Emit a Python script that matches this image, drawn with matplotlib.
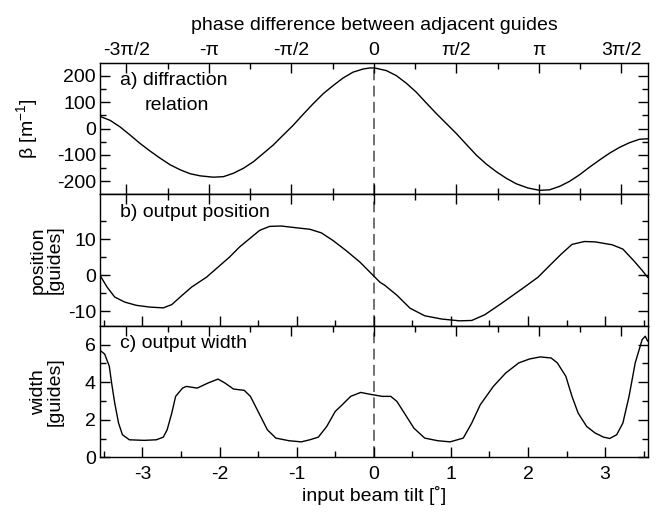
import numpy as np
import matplotlib
matplotlib.use("Agg")
from matplotlib import pyplot as plt
from matplotlib.ticker import FixedLocator, MultipleLocator

plt.rcParams['font.family'] = ['Liberation Sans', 'DejaVu Sans']
plt.rcParams['axes.unicode_minus'] = False
plt.rcParams['mathtext.default'] = 'regular'
plt.rcParams['font.size'] = 14

# input beam tilt (deg) that corresponds to a phase step of pi/2
DEG_PER_HALFPI = 1.07

# a) diffraction relation
tilt_a = [-3.55, -3.42, -3.29, -3.16, -3.03, -2.90, -2.77, -2.64, -2.51, -2.38, -2.25,
          -2.08, -1.95, -1.82, -1.69, -1.56, -1.43, -1.305, -1.175, -1.046, -0.916,
          -0.787, -0.657, -0.528, -0.398, -0.27, -0.139, -0.053, 0.012, 0.163, 0.292,
          0.422, 0.551, 0.681, 0.81, 0.94, 1.07, 1.199, 1.329, 1.458, 1.588, 1.717,
          1.847, 1.998, 2.149, 2.279, 2.408, 2.538, 2.667, 2.797, 2.926, 3.056, 3.185,
          3.315, 3.444, 3.552]
beta = [46, 31, 6, -25, -57, -86, -113, -138, -157, -172, -180,
        -185, -183, -170, -151, -126, -94, -63, -25, 12, 54,
        94, 132, 163, 192, 214, 226, 230, 230, 220, 201,
        172, 138, 97, 57, 19, -19, -60, -101, -135, -164, -189,
        -210, -226, -235, -233, -220, -201, -176, -147, -120, -94, -72,
        -54, -41, -39]

# b) output position
tilt_b = [-3.55, -3.46, -3.36, -3.23, -3.08, -2.90, -2.73, -2.62, -2.49, -2.36, -2.17,
          -2.02, -1.87, -1.74, -1.61, -1.48, -1.35, -1.20, -1.00, -0.83, -0.68, -0.53,
          -0.36, -0.18, -0.05, 0.08, 0.14, 0.30, 0.47, 0.66, 0.88, 1.11, 1.27, 1.44,
          1.66, 1.93, 2.13, 2.26, 2.43, 2.57, 2.73, 2.87, 3.09, 3.23, 3.37, 3.48, 3.55]
position = [0, -3.2, -6.0, -7.4, -8.3, -8.8, -9.0, -8.1, -5.6, -3.2, -0.5,
            2.3, 5.1, 7.9, 10.2, 12.5, 13.6, 13.7, 13.2, 12.8, 11.8, 9.7,
            6.9, 3.7, 0.9, -1.9, -2.7, -5.5, -9.1, -11.2, -12.1, -12.6, -12.5, -10.9,
            -7.7, -3.6, -0.5, 2.3, 5.9, 8.6, 9.4, 9.3, 8.5, 7.3, 4.1, 1.4, -0.5]

# c) output width
tilt_c = [-3.55, -3.49, -3.43, -3.40, -3.36, -3.31, -3.26, -3.17, -2.98, -2.82, -2.73,
          -2.68, -2.62, -2.57, -2.48, -2.43, -2.29, -2.15, -2.02, -1.93, -1.82, -1.68,
          -1.60, -1.49, -1.38, -1.27, -1.10, -0.94, -0.83, -0.72, -0.61, -0.50, -0.41,
          -0.30, -0.17, -0.06, 0.11, 0.22, 0.30, 0.41, 0.52, 0.66, 0.83, 0.99, 1.16,
          1.27, 1.38, 1.55, 1.71, 1.88, 2.02, 2.16, 2.30, 2.38, 2.49, 2.57, 2.65,
          2.76, 2.87, 2.98, 3.06, 3.15, 3.23, 3.31, 3.39, 3.48, 3.52, 3.55]
width = [5.7, 5.5, 4.85, 3.96, 2.9, 1.83, 1.21, 0.94, 0.91, 0.94, 1.08,
         1.47, 2.36, 3.25, 3.69, 3.78, 3.69, 3.96, 4.17, 3.96, 3.64, 3.57,
         3.25, 2.36, 1.47, 1.03, 0.89, 0.83, 0.94, 1.08, 1.65, 2.45, 2.8,
         3.25, 3.46, 3.37, 3.25, 3.25, 2.98, 2.27, 1.56, 1.03, 0.89, 0.83, 1.03,
         1.83, 2.8, 3.78, 4.49, 5.03, 5.24, 5.35, 5.29, 5.03, 4.32, 3.25, 2.36,
         1.65, 1.30, 1.08, 1.01, 1.21, 1.83, 3.25, 5.03, 6.27, 6.45, 6.2]

phase_ticks = [-1.5 * np.pi, -np.pi, -0.5 * np.pi, 0, 0.5 * np.pi, np.pi, 1.5 * np.pi]
phase_labels = ['-3π/2', '-π', '-π/2', '0', 'π/2', 'π', '3π/2']
phase_minor = [k * np.pi / 4 for k in range(-7, 8)]


def deg2phase(x):
    return np.asarray(x) * (np.pi / 2) / DEG_PER_HALFPI


def phase2deg(p):
    return np.asarray(p) * DEG_PER_HALFPI / (np.pi / 2)


def phase_axis(ax, where, labels=False):
    sec = ax.secondary_xaxis(where, functions=(deg2phase, phase2deg))
    sec.set_xticks(phase_ticks)
    sec.set_xticklabels(phase_labels if labels else [])
    sec.xaxis.set_minor_locator(FixedLocator(phase_minor))
    sec.tick_params(which='both', direction='in', width=1)
    sec.tick_params(which='major', length=7, pad=3)
    sec.tick_params(which='minor', length=4)
    return sec


fig, axs = plt.subplots(3, 1, sharex=True, figsize=(6.67, 5.14), dpi=100)
fig.subplots_adjust(left=0.150, right=0.972, top=0.878, bottom=0.110, hspace=0)

axs[0].plot(tilt_a, beta, color='black', lw=1)
axs[1].plot(tilt_b, position, color='black', lw=1)
axs[2].plot(tilt_c, width, color='black', lw=1)

axs[0].set_ylim(-250, 250)
axs[0].yaxis.set_major_locator(FixedLocator([-200, -100, 0, 100, 200]))
axs[0].yaxis.set_minor_locator(FixedLocator([-150, -50, 50, 150]))
axs[1].set_ylim(-14, 22.5)
axs[1].yaxis.set_major_locator(FixedLocator([-10, 0, 10]))
axs[1].yaxis.set_minor_locator(FixedLocator([-5, 5, 15]))
axs[2].set_ylim(0, 7)
axs[2].yaxis.set_major_locator(FixedLocator([0, 2, 4, 6]))
axs[2].yaxis.set_minor_locator(FixedLocator([1, 3, 5]))

axs[2].set_xlim(-3.55, 3.56)
axs[2].xaxis.set_major_locator(MultipleLocator(1))
axs[2].xaxis.set_minor_locator(MultipleLocator(0.5))

for ax in axs:
    ax.axvline(0, color='0.4', lw=1.3, ls=(0, (6, 3)), zorder=0)
    ax.tick_params(which='both', direction='in', left=True, right=True, top=False,
                   bottom=True, width=1)
    ax.tick_params(which='major', length=7)
    ax.tick_params(which='minor', length=4)
    ax.tick_params(axis='y', pad=3)
    ax.tick_params(axis='x', pad=6)
    for s in ax.spines.values():
        s.set_linewidth(1)

# phase ticks along the top of every panel, labelled only on the top one
top = phase_axis(axs[0], 'top', labels=True)
top.set_xlabel('phase difference between adjacent guides', labelpad=8)
phase_axis(axs[1], 'top')
phase_axis(axs[2], 'top')
axs[0].tick_params(axis='x', which='both', bottom=False)
phase_axis(axs[0], 'bottom')

axs[2].set_xlabel('input beam tilt [˚]', labelpad=2)

axs[0].set_ylabel('β [m$^{-1}$]')
axs[1].set_ylabel('position\n[guides]', linespacing=1.0)
axs[2].set_ylabel('width\n[guides]', linespacing=1.0)
axs[0].yaxis.set_label_coords(-0.11, 0.5)
axs[1].yaxis.set_label_coords(-0.066, 0.5)
axs[2].yaxis.set_label_coords(-0.066, 0.5)

axs[0].text(0.036, 0.93, 'a) diffraction', transform=axs[0].transAxes, va='top')
axs[0].text(0.082, 0.74, 'relation', transform=axs[0].transAxes, va='top')
axs[1].text(0.036, 0.93, 'b) output position', transform=axs[1].transAxes, va='top')
axs[2].text(0.036, 0.93, 'c) output width', transform=axs[2].transAxes, va='top')

fig.savefig('out.png', dpi=100)
